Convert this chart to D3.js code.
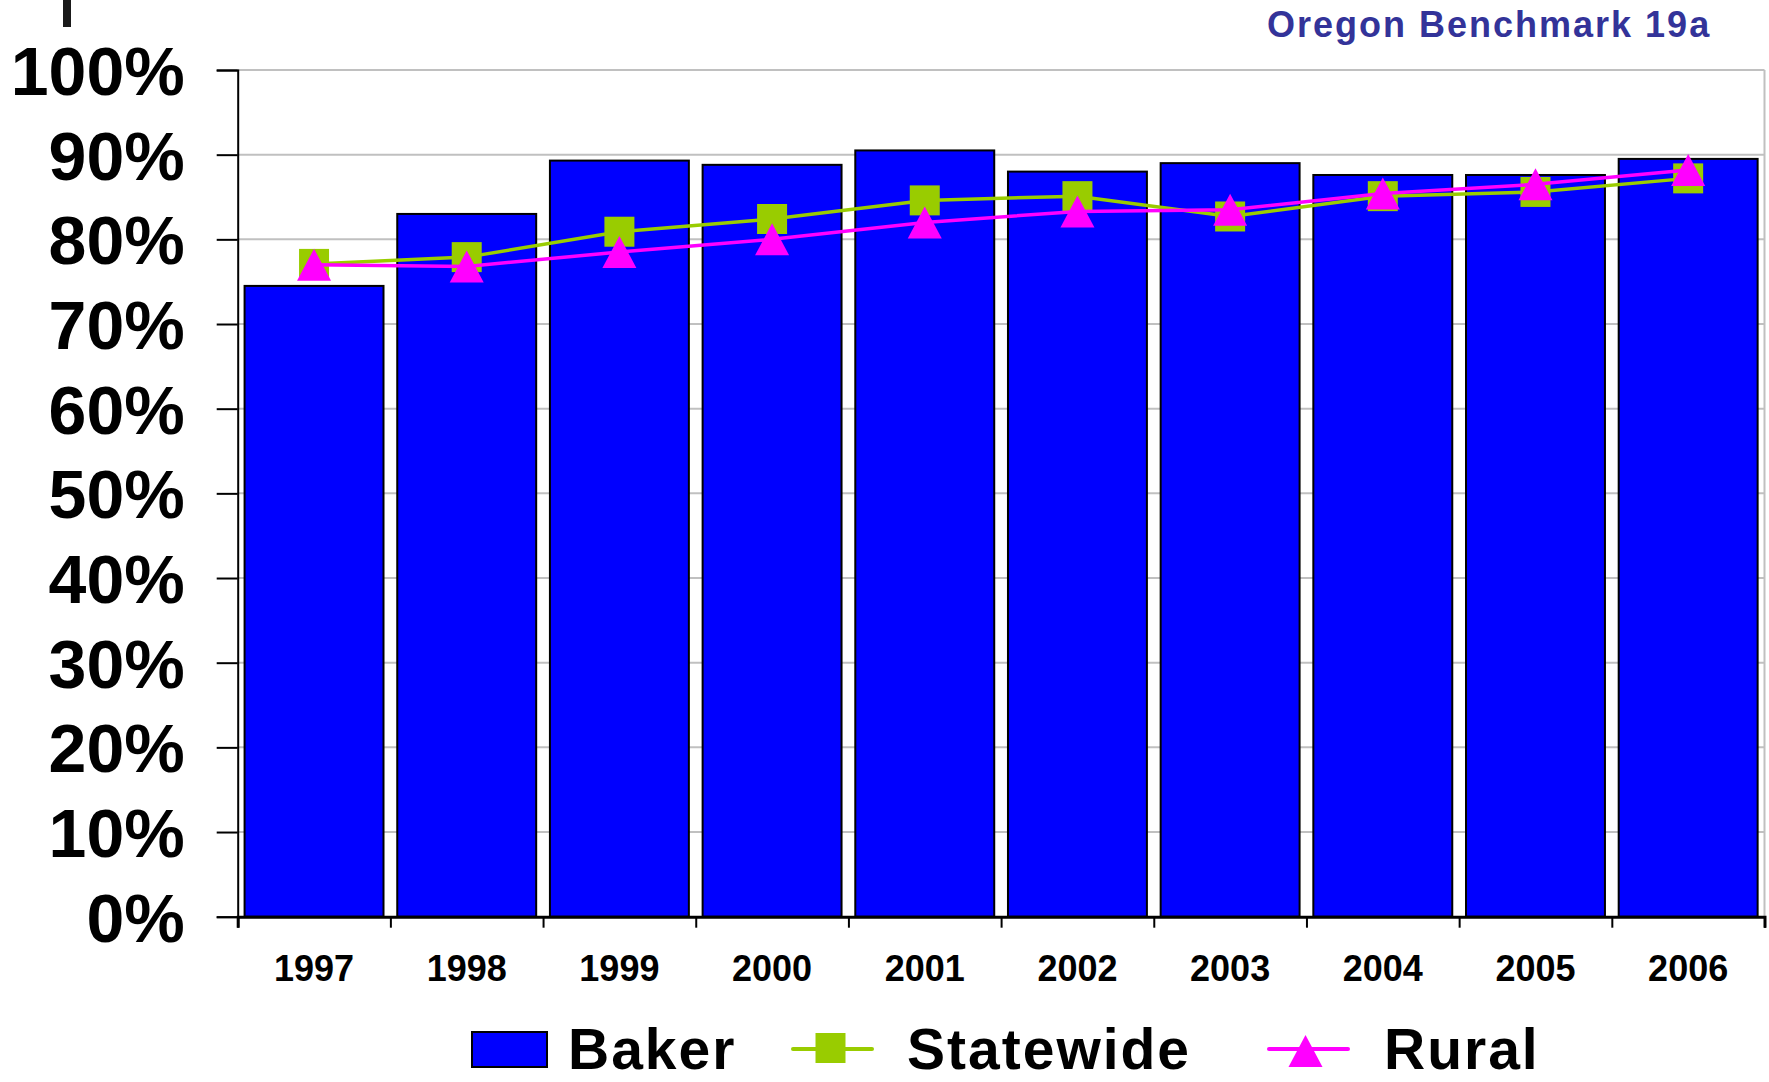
<!DOCTYPE html>
<html>
<head>
<meta charset="utf-8">
<script src="https://cdnjs.cloudflare.com/ajax/libs/d3/7.8.5/d3.min.js"></script>
<style>
  body { margin: 0; background: #ffffff; }
  text { font-family: "Liberation Sans", Arial, sans-serif; font-weight: bold; }
</style>
</head>
<body>
<div id="chart"></div>
<script>
// Chart data.
var years = ["1997", "1998", "1999", "2000", "2001", "2002", "2003", "2004", "2005", "2006"];
var bakerValues = [74.5, 83.0, 89.3, 88.8, 90.5, 88.0, 89.0, 87.6, 87.6, 89.5];
var statewideValues = [77.1, 77.9, 80.9, 82.4, 84.6, 85.1, 82.7, 85.1, 85.6, 87.2];
var ruralValues = [77.0, 76.8, 78.5, 80.0, 82.0, 83.3, 83.5, 85.4, 86.5, 88.2];
var yTicks = [0, 10, 20, 30, 40, 50, 60, 70, 80, 90, 100];
var seriesNames = ["Baker", "Statewide", "Rural"];
var title = "Oregon Benchmark 19a";

// 0. Colors.
var barColor = '#0000ff';
var statewideColor = '#99cc00';
var ruralColor = '#ff00ff';
var gridColor = '#c0c0c0';
var titleColor = '#333399';

// 1. Sizes.
var width = 1769;
var height = 1082;
var plotLeft = 237.7;
var plotRight = 1764.5;
var plotTop = 70;
var plotBottom = 916.7;

// 2. Scales.
var xScale = d3.scaleBand()
               .domain(years)
               .range([plotLeft, plotRight])
               .paddingInner(0.09)
               .paddingOuter(0.045);
var yScale = d3.scaleLinear()
               .domain([0, 100])
               .range([plotBottom, plotTop]);
function xCenter(i) { return xScale(years[i]) + xScale.bandwidth() / 2; }

// 3. Make svg.
var svg = d3.select("#chart").append("svg")
            .attr("width", width)
            .attr("height", height)
            .style("display", "block");
svg.append("rect").attr("width", width).attr("height", height).attr("fill", "#ffffff");

// 3.1 Gridlines and plot border.
svg.append("g").selectAll("line").data(yTicks.filter(function (d) { return d > 0; }))
  .enter().append("line")
  .attr("x1", plotLeft).attr("x2", plotRight)
  .attr("y1", function (d) { return yScale(d); })
  .attr("y2", function (d) { return yScale(d); })
  .attr("stroke", gridColor)
  .attr("stroke-width", 2);
svg.append("line")
  .attr("x1", plotRight).attr("x2", plotRight)
  .attr("y1", yScale(100)).attr("y2", yScale(0))
  .attr("stroke", gridColor)
  .attr("stroke-width", 2);

// 3.2 Bars.
svg.append("g").selectAll("rect").data(bakerValues)
  .enter().append("rect")
  .attr("x", function (d, i) { return xScale(years[i]); })
  .attr("y", function (d) { return yScale(d); })
  .attr("width", xScale.bandwidth())
  .attr("height", function (d) { return yScale(0) - yScale(d); })
  .attr("fill", barColor)
  .attr("stroke", "#000000")
  .attr("stroke-width", 2);

// 3.3 Axes.
var yAxis = d3.axisLeft(yScale)
  .tickValues(yTicks)
  .tickSize(21)
  .tickFormat(function (d) { return d + "%"; });
var yAxisG = svg.append("g")
  .attr("transform", "translate(" + plotLeft + ",0)")
  .call(yAxis);
yAxisG.select(".domain").attr("stroke", "#000000").attr("stroke-width", 2);
yAxisG.selectAll(".tick line").attr("stroke", "#000000").attr("stroke-width", 2);
yAxisG.selectAll(".tick text")
  .attr("x", -53)
  .attr("dy", "0.36em")
  .attr("fill", "#000000")
  .style("font-size", "68px");

var boundaryScale = d3.scaleLinear().domain([0, years.length]).range([plotLeft, plotRight]);
var xAxis = d3.axisBottom(boundaryScale)
  .tickValues(d3.range(years.length + 1))
  .tickSize(11)
  .tickFormat("");
var xAxisG = svg.append("g")
  .attr("transform", "translate(0," + plotBottom + ")")
  .call(xAxis);
xAxisG.select(".domain").attr("stroke", "#000000").attr("stroke-width", 3);
xAxisG.selectAll(".tick line").attr("stroke", "#000000").attr("stroke-width", 2);

svg.append("g").selectAll("text").data(years)
  .enter().append("text")
  .attr("x", function (d) { return xScale(d) + xScale.bandwidth() / 2; })
  .attr("y", 981)
  .attr("text-anchor", "middle")
  .style("font-size", "36px")
  .attr("fill", "#000000")
  .text(function (d) { return d; });

// 4. Lines and markers.
var line = d3.line()
  .x(function (d, i) { return xCenter(i); })
  .y(function (d) { return yScale(d); });

function squarePath(cx, cy) {
  return "M" + (cx - 15) + "," + (cy - 15) + "h30v30h-30Z";
}
function trianglePath(cx, cy) {
  return "M" + cx + "," + (cy - 16) + "L" + (cx + 17) + "," + (cy + 16) + "L" + (cx - 17) + "," + (cy + 16) + "Z";
}

svg.append("path")
  .attr("d", line(statewideValues))
  .attr("fill", "none")
  .attr("stroke", statewideColor)
  .attr("stroke-width", 3.5);
svg.append("g").selectAll("path").data(statewideValues)
  .enter().append("path")
  .attr("d", function (d, i) { return squarePath(xCenter(i), yScale(d)); })
  .attr("fill", statewideColor);

svg.append("path")
  .attr("d", line(ruralValues))
  .attr("fill", "none")
  .attr("stroke", ruralColor)
  .attr("stroke-width", 3.5);
svg.append("g").selectAll("path").data(ruralValues)
  .enter().append("path")
  .attr("d", function (d, i) { return trianglePath(xCenter(i), yScale(d)); })
  .attr("fill", ruralColor);

// 5. Legend (kept clear of the bottom edge).
var legendY = 1049;
var legendBase = 1069;
var legend = svg.append("g").style("font-size", "57px").style("letter-spacing", "2px");
legend.append("rect")
  .attr("x", 472).attr("y", legendY - 17)
  .attr("width", 75).attr("height", 35)
  .attr("fill", barColor)
  .attr("stroke", "#000000")
  .attr("stroke-width", 2);
legend.append("text").attr("x", 568).attr("y", legendBase).text(seriesNames[0]);

legend.append("line")
  .attr("x1", 793).attr("x2", 872)
  .attr("y1", legendY).attr("y2", legendY)
  .attr("stroke", statewideColor)
  .attr("stroke-width", 4)
  .attr("stroke-linecap", "round");
legend.append("path").attr("d", squarePath(830.5, legendY - 1)).attr("fill", statewideColor);
legend.append("text").attr("x", 907).attr("y", legendBase).text(seriesNames[1]);

legend.append("line")
  .attr("x1", 1269).attr("x2", 1348)
  .attr("y1", legendY).attr("y2", legendY)
  .attr("stroke", ruralColor)
  .attr("stroke-width", 4)
  .attr("stroke-linecap", "round");
legend.append("path").attr("d", trianglePath(1305.5, legendY + 2)).attr("fill", ruralColor);
legend.append("text").attr("x", 1384).attr("y", legendBase).text(seriesNames[2]);

// 6. Title at the top right.
svg.append("text")
  .attr("x", 1267)
  .attr("y", 36.7)
  .attr("fill", titleColor)
  .style("font-size", "36px")
  .style("letter-spacing", "2px")
  .text(title);

// 6.1 Clipped stroke left over at the top left corner.
svg.append("rect")
  .attr("x", 63).attr("y", 0)
  .attr("width", 8).attr("height", 27)
  .attr("fill", "#1a1a1a");
</script>
</body>
</html>
